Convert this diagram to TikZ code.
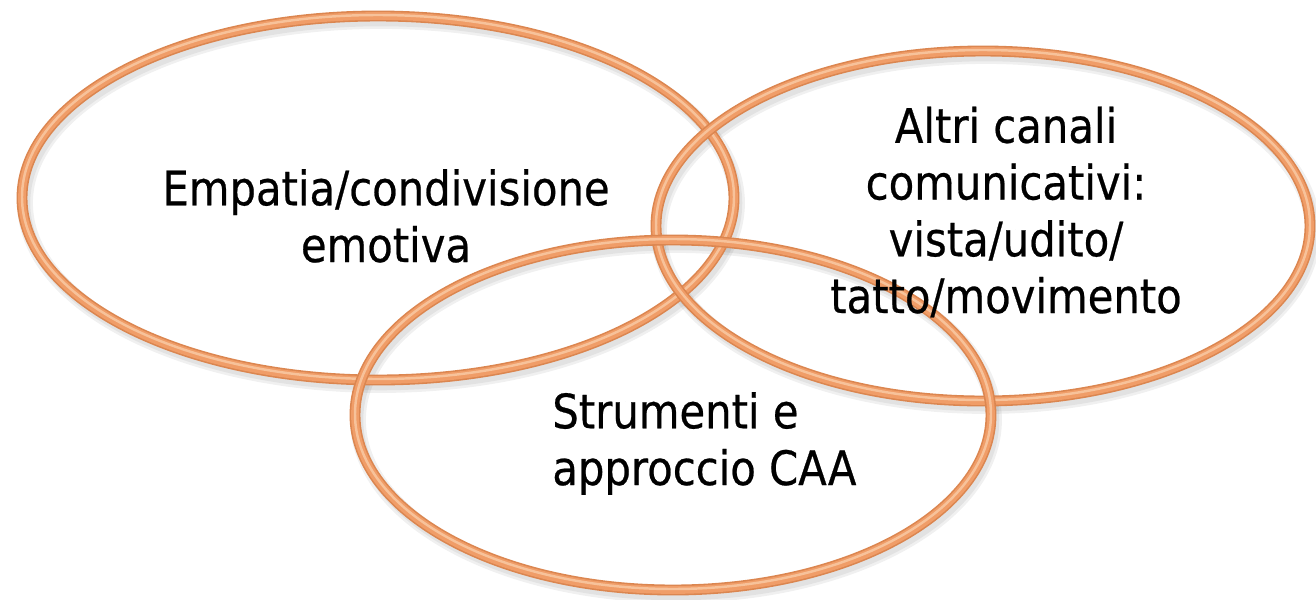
\documentclass[tikz,border=0pt]{standalone}
\usepackage{fontspec}
\setmainfont{DejaVu Sans}[FakeStretch=0.88, FakeBold=0.5]
\usepackage{tikz}
\definecolor{ringdark}{HTML}{DB8650}
\definecolor{ringmid}{HTML}{F09D68}
\definecolor{ringlight}{HTML}{F7C29A}

\begin{document}
\begin{tikzpicture}[
  x=0.02cm, y=-0.02cm,
  ringshadow/.style={draw=black, opacity=0.06},
  ringbase/.style={draw=ringdark, line width=6.2pt},
  ringbody/.style={draw=ringmid, line width=4.4pt},
  ringshine/.style={draw=ringlight, line width=1.4pt},
  label/.style={font=\fontsize{27}{32.3}\selectfont, inner sep=0pt, text=black}
]
  \useasboundingbox (0,0) rectangle (1316,599);

  % ringe: schatten, dann rand, dann glanz
  \foreach \cx/\cy/\rx/\ry in {378/198/356/182, 983/226/327/175, 673/415/318/175} {
    \draw[ringshadow, line width=9pt] (\cx+3,\cy+5) ellipse [x radius=\rx, y radius=\ry];
    \draw[ringshadow, line width=6pt] (\cx+3,\cy+5) ellipse [x radius=\rx, y radius=\ry];
  }
  \foreach \cx/\cy/\rx/\ry in {378/198/356/182, 983/226/327/175, 673/415/318/175} {
    \draw[ringbase] (\cx,\cy) ellipse [x radius=\rx, y radius=\ry];
    \draw[ringbody] (\cx,\cy) ellipse [x radius=\rx, y radius=\ry];
    \draw[ringshine] (\cx,\cy-1) ellipse [x radius=\rx, y radius=\ry];
  }

  % testi
  \node[label, align=center, anchor=base] (empatia) at (386,262) {Empatia/condivisione\\emotiva};
  \node[label, align=center, anchor=base] (canali) at (1006,313) {Altri canali\\comunicativi:\\vista/udito/\\tatto/movimento};
  \node[label, align=left, anchor=base west] (strumenti) at (552,485) {Strumenti e\\approccio CAA};
\end{tikzpicture}
\end{document}
